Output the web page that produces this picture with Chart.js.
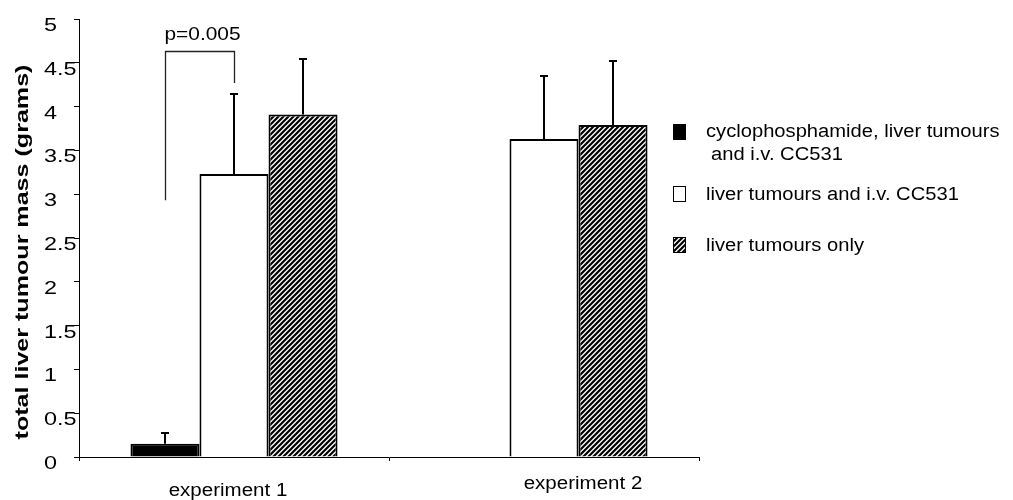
<!DOCTYPE html>
<html>
<head>
<meta charset="utf-8">
<script src="https://cdn.jsdelivr.net/npm/chart.js@4.4.0/dist/chart.umd.min.js"></script>
<style>
	html, body { margin: 0; padding: 0; background: #fff; }
	#wrap { width: 1013px; height: 500px; }
</style>
</head>
<body>
<div id="wrap"><canvas id="Graphe1" width="1013" height="500"></canvas></div>
<script>
'use strict';

// values (grams)
var categories = ['experiment 1', 'experiment 2'];
var seriesNames = ['cyclophosphamide, liver tumours', 'liver tumours and i.v. CC531', 'liver tumours only'];
var cycloValues = [0.15, 0];
var cc531Values = [3.23, 3.63];
var onlyValues = [3.91, 3.79];
// upper error bars (+SD)
var cycloErrors = [0.14, 0];
var cc531Errors = [0.93, 0.73];
var onlyErrors = [0.65, 0.74];
var yMin = 0;
var yMax = 5;
var yStep = 0.5;
var yTitle = 'total liver tumour mass (grams)';
var pText = 'p=0.005';
// bracket: top, left leg end, right leg end
var bracket = [4.63, 2.93, 4.27];

var FONT = '"Liberation Sans", Arial, Helvetica, sans-serif';

var ctx = document.getElementById('Graphe1').getContext('2d');

function hatch() {
	var tile = document.createElement('canvas');
	tile.width = 5;
	tile.height = 5;
	var g = tile.getContext('2d');
	g.fillStyle = '#fff';
	g.fillRect(0, 0, 5, 5);
	g.strokeStyle = '#000';
	g.lineWidth = 2.2;
	g.beginPath();
	g.moveTo(-1, 6); g.lineTo(6, -1);
	g.moveTo(-1, 1); g.lineTo(1, -1);
	g.moveTo(4, 6); g.lineTo(6, 4);
	g.stroke();
	return ctx.createPattern(tile, 'repeat');
}
var stripes = hatch();

// text a bit wider than tall, like the scanned figure
function text(c, s, x, y, sx, align) {
	c.save();
	c.translate(x, y);
	c.scale(sx, 1);
	c.textAlign = align || 'left';
	c.textBaseline = 'alphabetic';
	c.fillText(s, 0, 0);
	c.restore();
}

var extras = {
	id: 'extras',
	afterDatasetsDraw: function (chart) {
		var c = chart.ctx;
		var y = chart.scales.y;
		var errs = [cycloErrors, cc531Errors, onlyErrors];

		// error bars, upper only
		c.save();
		c.strokeStyle = '#000';
		c.lineWidth = 2;
		errs.forEach(function (err, i) {
			var meta = chart.getDatasetMeta(i);
			var vals = chart.data.datasets[i].data;
			meta.data.forEach(function (bar, j) {
				if (!err[j]) return;
				var top = Math.round(y.getPixelForValue(vals[j] + err[j]));
				var bx = Math.round(bar.x);
				c.beginPath();
				c.moveTo(bx, bar.y);
				c.lineTo(bx, top);
				c.stroke();
				c.beginPath();
				c.moveTo(bx - 4, top + 1);
				c.lineTo(bx + 4, top + 1);
				c.stroke();
			});
		});

		// significance bracket
		var lx = Math.round(chart.getDatasetMeta(0).data[0].x) + 0.5;
		var rx = Math.round(chart.getDatasetMeta(1).data[0].x) + 0.5;
		var ty = Math.round(y.getPixelForValue(bracket[0])) + 0.5;
		c.strokeStyle = '#222';
		c.lineWidth = 1.3;
		c.beginPath();
		c.moveTo(lx, y.getPixelForValue(bracket[1]));
		c.lineTo(lx, ty);
		c.lineTo(rx, ty);
		c.lineTo(rx, y.getPixelForValue(bracket[2]));
		c.stroke();
		c.fillStyle = '#000';
		c.font = '18px ' + FONT;
		text(c, pText, lx - 1, ty - 12, 1.16);
		c.restore();
	},
	afterDraw: function (chart) {
		var c = chart.ctx;
		var y = chart.scales.y;
		var x = chart.scales.x;
		c.save();
		c.fillStyle = '#000';

		// y tick labels
		c.font = '18px ' + FONT;
		y.ticks.forEach(function (t) {
			var py = y.getPixelForValue(t.value);
			text(c, String(t.value), 44, py + 12, 1.3);
		});

		// category labels, sitting a little off-centre as in the figure
		var dx = [-6, 39];
		var base = [496, 489];
		categories.forEach(function (cat, i) {
			text(c, cat, x.getPixelForValue(i) + dx[i], base[i], 1.14, 'center');
		});

		// axis title
		c.save();
		c.font = 'bold 19px ' + FONT;
		c.translate(28, 252);
		c.rotate(-Math.PI / 2);
		text(c, yTitle, 0, 0, 1.32, 'center');
		c.restore();

		// legend
		var fills = ['#000', '#fff', stripes];
		var tops = [124, 186, 237];
		var bases = [137, 200, 251];
		c.font = '18px ' + FONT;
		fills.forEach(function (f, i) {
			c.fillStyle = f;
			c.fillRect(673, tops[i], 13, 16);
			c.strokeStyle = '#000';
			c.lineWidth = 1;
			c.strokeRect(673.5, tops[i] + 0.5, 12, 15);
			c.fillStyle = '#000';
			text(c, seriesNames[i], 706, bases[i], 1.12);
		});
		text(c, 'and i.v. CC531', 711, 160, 1.12);
		c.restore();
	}
};

var chart = new Chart(ctx, {
	type: 'bar',
	data: {
		labels: categories,
		datasets: [
			{
				label: seriesNames[0] + ' and i.v. CC531',
				data: cycloValues,
				backgroundColor: '#000',
				borderColor: '#000',
				borderWidth: 2,
			},
			{
				label: seriesNames[1],
				data: cc531Values,
				backgroundColor: '#fff',
				borderColor: '#000',
				borderWidth: 2,
			},
			{
				label: seriesNames[2],
				data: onlyValues,
				backgroundColor: stripes,
				borderColor: '#000',
				borderWidth: 2,
			},
		],
	},
	options: {
		responsive: false,
		animation: false,
		devicePixelRatio: 1,
		categoryPercentage: 0.668,
		barPercentage: 1,
		layout: {
			padding: { left: 0, right: 314, top: 19, bottom: 0 }
		},
		plugins: {
			legend: { display: false },
			tooltip: { enabled: false },
		},
		scales: {
			x: {
				ticks: { display: false },
				grid: {
					display: true,
					offset: true,
					drawOnChartArea: false,
					tickLength: 4,
					color: '#000',
				},
				border: { color: '#000', width: 1 },
				afterFit: function (s) { s.height = 43; },
			},
			y: {
				min: yMin,
				max: yMax,
				ticks: { display: false, stepSize: yStep },
				grid: {
					drawOnChartArea: false,
					tickLength: 5,
					color: '#000',
				},
				border: { color: '#000', width: 1 },
				afterFit: function (s) { s.width = 79; },
			},
		},
	},
	plugins: [extras],
});
</script>
</body>
</html>
